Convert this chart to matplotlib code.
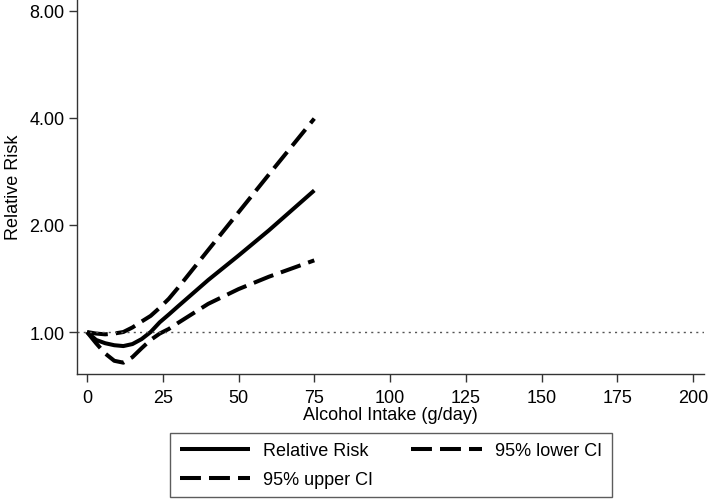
import numpy as np
import matplotlib
matplotlib.use('Agg')
import matplotlib.pyplot as plt

# 字体：Arial 风格
matplotlib.rcParams['font.family'] = ['Liberation Sans', 'DejaVu Sans']

# 数据
intake = [0, 3, 6, 9, 12, 15, 18, 21, 24, 27, 30, 40, 50, 60, 75]
rr = [1.00, 0.95, 0.93, 0.918, 0.913, 0.925, 0.955, 1.00, 1.065, 1.12, 1.18, 1.40, 1.64, 1.93, 2.50]
upper_ci = [1.00, 0.99, 0.985, 0.99, 1.00, 1.03, 1.07, 1.11, 1.17, 1.24, 1.33, 1.70, 2.17, 2.77, 3.98]
lower_ci = [1.00, 0.93, 0.87, 0.83, 0.82, 0.85, 0.90, 0.95, 0.99, 1.02, 1.06, 1.20, 1.32, 1.43, 1.59]

xticks = [0, 25, 50, 75, 100, 125, 150, 175, 200]
yticks = [1, 2, 4, 8]
ytick_labels = ['1.00', '2.00', '4.00', '8.00']

fs = 13

fig = plt.figure(figsize=(7.09, 5.02), dpi=100)
ax = fig.add_axes([77 / 709, 1 - 375 / 502, (704 - 77) / 709, 375 / 502])

lw = 2.9
l_rr, = ax.plot(intake, rr, color='black', lw=lw, solid_capstyle='butt', label='Relative Risk')
l_lo, = ax.plot(intake, lower_ci, color='black', lw=lw, dashes=(5.2, 2.0), label='95% lower CI')
l_up, = ax.plot(intake, upper_ci, color='black', lw=lw, dashes=(5.2, 2.0), label='95% upper CI')

# 参考线 RR = 1
ax.axhline(1.0, color='#555555', lw=1.0, ls=(0, (1.5, 3)))

ax.set_yscale('log', base=2)
ax.set_ylim(0.762, 8.63)
ax.set_xlim(-3.3, 203.6)
ax.set_yticks(yticks)
ax.set_yticklabels(ytick_labels)
ax.minorticks_off()
ax.set_xticks(xticks)

for s in ['top', 'right']:
    ax.spines[s].set_visible(False)
for s in ['left', 'bottom']:
    ax.spines[s].set_color('#333333')
    ax.spines[s].set_linewidth(1.0)

ax.tick_params(axis='y', length=6, width=1, color='#333333', labelsize=fs, pad=3)
ax.tick_params(axis='x', length=6, width=1, color='#333333', labelsize=fs, pad=5)
ax.set_xlabel('Alcohol Intake (g/day)', fontsize=fs, labelpad=0)
ax.set_ylabel('Relative Risk', fontsize=fs, labelpad=5)

leg = fig.legend([l_rr, l_up, l_lo], ['Relative Risk', '95% upper CI', '95% lower CI'],
                 ncol=2, loc='center', bbox_to_anchor=(391 / 709, 1 - 466 / 502),
                 fontsize=fs, frameon=True, fancybox=False, handlelength=3.9,
                 handletextpad=0.75, columnspacing=2.1, labelspacing=0.65, borderpad=0.5)
leg.get_frame().set_edgecolor('#333333')
leg.get_frame().set_linewidth(1.0)

plt.savefig('out.png', dpi=100)
